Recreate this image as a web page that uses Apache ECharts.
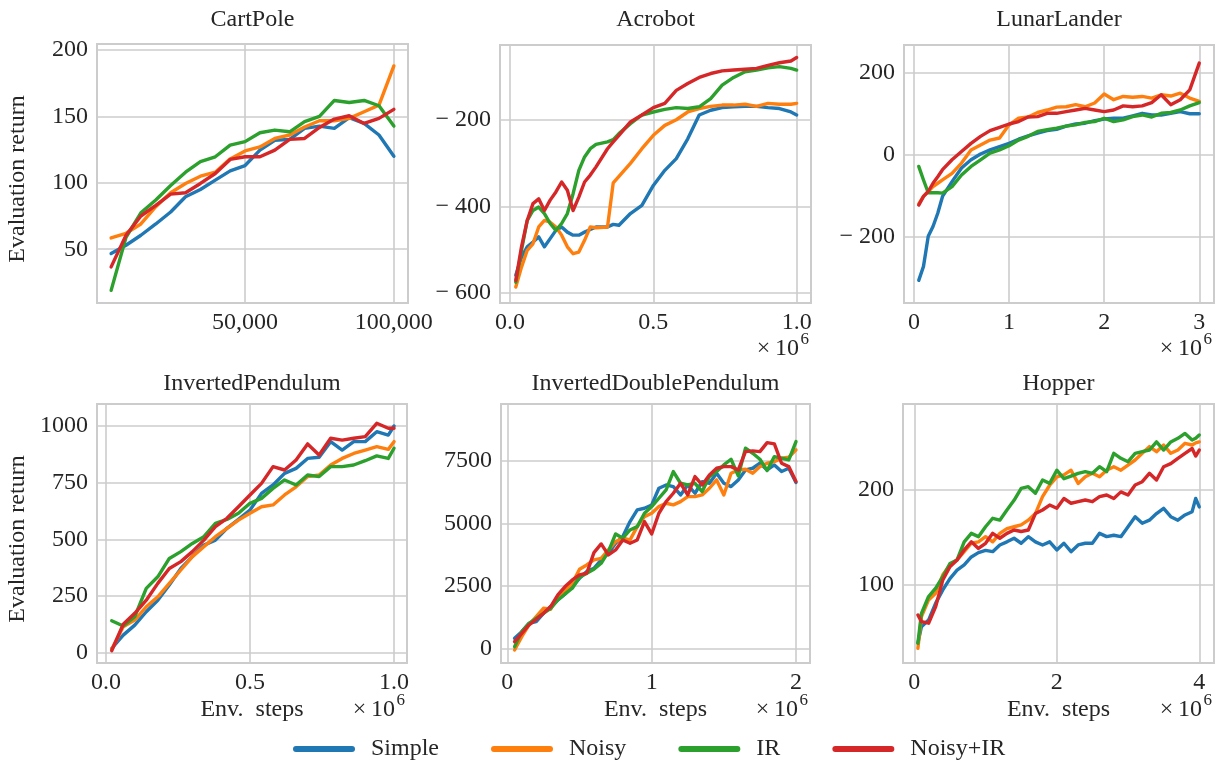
<!DOCTYPE html>
<html>
<head>
<meta charset="utf-8">
<script src="https://cdn.jsdelivr.net/npm/echarts@6/dist/echarts.min.js"></script>
<style>
html, body { margin: 0; padding: 0; background: #fff; }
#main { width: 1227px; height: 760px; }
</style>
</head>
<body>
<div id="main"></div>
<script>
var methods = ['Simple', 'Noisy', 'IR', 'Noisy+IR'];
var colors = ['#1f77b4', '#ff7f0e', '#2ca02c', '#d62728'];

// CartPole
var cartX = [5000, 10000, 15000, 20000, 25000, 30000, 35000, 40000, 45000, 50000,
             55000, 60000, 65000, 70000, 75000, 80000, 85000, 90000, 95000, 100000];
var cartSimple = [46.7, 53, 60.5, 69, 78, 89.5, 95, 102, 109, 113, 124.6, 132, 132.7, 141, 142.7, 141, 149, 144.7, 136, 120];
var cartNoisy = [58.5, 62, 69, 82, 92.5, 99.5, 105, 108, 118, 124, 127, 133.4, 136, 142, 146.7, 146.7, 148.5, 153.5, 158.5, 188];
var cartIR = [19, 59, 77.4, 87, 98, 108, 116, 119.6, 128.4, 131, 137.7, 139.7, 138.4, 146, 150, 162, 160.5, 162, 158, 142.7];
var cartNoisyIR = [36.7, 60.5, 75, 83, 91.5, 92.5, 99.5, 107, 117.6, 119.6, 119.6, 124.6, 132.7, 133.4, 141.7, 148, 150.5, 144.7, 148.5, 155.3];
var cartXTicks = [50000, 100000];
var cartYTicks = [50, 100, 150, 200];

// Acrobot (x in 1e6 steps)
var acroX = [0.02, 0.04, 0.06, 0.08, 0.10, 0.12, 0.14, 0.16, 0.18, 0.20, 0.22, 0.24, 0.26, 0.28, 0.30,
             0.34, 0.36, 0.38, 0.42, 0.46, 0.50, 0.54, 0.58, 0.62, 0.66, 0.70, 0.74, 0.78, 0.82, 0.86, 0.90, 0.94, 0.98, 1.00];
var acroSimple = [-559, -517, -493, -482, -470, -493, -474, -455, -447, -459, -466, -466, -459, -453, -447,
                  -447, -441, -443, -416, -397, -351, -316, -289, -243, -188, -177, -171, -169, -168, -168, -171, -173, -181, -188];
var acroNoisy = [-586, -540, -501, -486, -447, -432, -436, -447, -466, -493, -509, -505, -478, -447, -449,
                 -447, -345, -330, -300, -266, -235, -212, -199, -181, -173, -168, -165, -165, -163, -168, -161, -163, -163, -161];
var acroIR = [-575, -501, -432, -409, -401, -416, -439, -455, -439, -416, -370, -316, -285, -266, -256,
              -250, -245, -231, -208, -188, -181, -175, -171, -173, -169, -150, -119, -101, -88, -84, -79, -76, -80, -84];
var acroNoisyIR = [-571, -493, -432, -393, -382, -409, -385, -366, -343, -362, -409, -378, -343, -327, -308,
                   -266, -250, -235, -204, -188, -171, -161, -131, -115, -101, -92, -86, -84, -82, -80, -73, -67, -63, -55];
var acroXTicks = [0, 0.5, 1.0];
var acroYTicks = [-600, -400, -200];

// LunarLander
var lunarX = [0.05, 0.1, 0.15, 0.2, 0.25, 0.3, 0.4, 0.5, 0.6, 0.7, 0.8, 0.9, 1.0, 1.1, 1.2, 1.3, 1.4, 1.5,
              1.6, 1.7, 1.8, 1.9, 2.0, 2.1, 2.2, 2.3, 2.4, 2.5, 2.6, 2.7, 2.8, 2.9, 3.0];
var lunarSimple = [-305, -271, -198, -174, -142, -101, -65, -32, -12, 2, 12, 20, 28, 38, 46, 53, 59, 62,
                   70, 75, 77, 83, 87, 89, 89, 95, 101, 97, 97, 101, 105, 100, 100];
var lunarNoisy = [-119, -101, -89, -77, -69, -61, -45, -20, 12, 24, 36, 41, 73, 89, 92, 103, 109, 116,
                  117, 122, 117, 126, 148, 134, 142, 140, 142, 138, 146, 143, 150, 138, 130];
var lunarIR = [-28, -61, -92, -92, -92, -93, -77, -49, -28, -12, 4, 12, 22, 36, 45, 57, 61, 65,
               70, 73, 79, 81, 89, 81, 85, 93, 97, 92, 101, 103, 109, 119, 127];
var lunarNoisyIR = [-122, -101, -89, -69, -53, -36, -12, 8, 28, 45, 59, 67, 75, 81, 92, 93, 101, 101,
                    105, 109, 113, 109, 105, 109, 119, 117, 119, 127, 146, 122, 134, 158, 223];
var lunarXTicks = [0, 1, 2, 3];
var lunarYTicks = [-200, 0, 200];

// InvertedPendulum
var ipX = [0.02, 0.06, 0.10, 0.14, 0.18, 0.22, 0.26, 0.30, 0.34, 0.38, 0.42, 0.46, 0.50,
           0.54, 0.58, 0.62, 0.66, 0.70, 0.74, 0.78, 0.82, 0.86, 0.90, 0.94, 0.98, 1.00];
var ipSimple = [19, 78, 122, 181, 232, 299, 372, 424, 475, 497, 549, 588, 629, 703, 740, 791, 813, 857, 862, 931, 894, 931, 931, 975, 960, 1000];
var ipNoisy = [15, 115, 144, 203, 247, 306, 365, 424, 468, 512, 549, 585, 615, 644, 652, 696, 732, 777, 784, 828, 857, 879, 894, 909, 897, 931];
var ipIR = [141, 118, 159, 284, 335, 416, 446, 482, 512, 571, 588, 615, 659, 681, 725, 762, 740, 784, 777, 821, 821, 828, 847, 868, 857, 902];
var ipNoisyIR = [9, 126, 174, 232, 306, 372, 402, 446, 497, 556, 593, 644, 696, 747, 821, 806, 850, 921, 872, 946, 938, 946, 953, 1012, 990, 990];
var ipXTicks = [0, 0.5, 1.0];
var ipYTicks = [0, 250, 500, 750, 1000];

// InvertedDoublePendulum
var idpX = [0.05, 0.1, 0.15, 0.2, 0.25, 0.3, 0.35, 0.4, 0.45, 0.5, 0.55, 0.6, 0.65, 0.7, 0.75, 0.8, 0.85, 0.9, 0.95, 1.0,
            1.05, 1.1, 1.15, 1.2, 1.25, 1.3, 1.35, 1.4, 1.45, 1.5, 1.55, 1.6, 1.65, 1.7, 1.75, 1.8, 1.85, 1.9, 1.95, 2.0];
var idpSimple = [400, 667, 1001, 1068, 1400, 1669, 1936, 2176, 2470, 2804, 3071, 3204, 3538, 3805, 4205, 4473, 5073, 5540, 5607, 5741,
                 6408, 6541, 6475, 6141, 6541, 6208, 6675, 6608, 7009, 6608, 6475, 6742, 7142, 7209, 7409, 7142, 7343, 7076, 7209, 6635];
var idpNoisy = [-67, 467, 934, 1268, 1602, 1562, 2069, 2310, 2603, 3164, 3337, 3538, 3604, 3938, 4272, 4406, 4339, 4873, 5273, 5407,
                5674, 5807, 5741, 5874, 6074, 6074, 6141, 6408, 6742, 6141, 7009, 7142, 7169, 7009, 7276, 7409, 7476, 7610, 7650, 7943];
var idpIR = [67, 667, 1001, 1201, 1400, 1602, 1936, 2176, 2403, 2844, 3004, 3164, 3404, 3872, 4579, 4406, 4739, 4873, 5407, 5674,
             6008, 6341, 7076, 6608, 6541, 6608, 6275, 6875, 7076, 7343, 7570, 6902, 8010, 7810, 7570, 7116, 7676, 7610, 7543, 8277];
var idpNoisyIR = [267, 600, 934, 1161, 1400, 1669, 2136, 2470, 2737, 2937, 3004, 3831, 4179, 3738, 3938, 4339, 4205, 4339, 5073, 4579,
                  5407, 5874, 6208, 6608, 6141, 6875, 6541, 6942, 7209, 7276, 7276, 7142, 7876, 7903, 7876, 8237, 8184, 7409, 7276, 6675];
var idpXTicks = [0, 1, 2];
var idpYTicks = [0, 2500, 5000, 7500];

// Hopper
var hopX = [0.05, 0.1, 0.2, 0.3, 0.4, 0.5, 0.6, 0.7, 0.8, 0.9, 1.0, 1.1, 1.2, 1.3, 1.4, 1.5, 1.6, 1.7, 1.8, 1.9, 2.0,
            2.1, 2.2, 2.3, 2.4, 2.5, 2.6, 2.7, 2.8, 2.9, 3.0, 3.1, 3.2, 3.3, 3.4, 3.5, 3.6, 3.7, 3.8, 3.9, 3.95, 4.0];
var hopSimple = [37.5, 55, 62, 80, 94, 106, 115, 120.5, 129, 133.6, 136, 134.6, 141.7, 145, 148.8, 143.5, 150.5, 145, 141.7, 145, 136.4,
                 143.5, 134.6, 141.7, 143.5, 143.5, 154, 150.5, 152, 150.5, 161, 171.7, 164.7, 168, 175, 180.6, 171.7, 168, 173.5, 177, 191, 182];
var hopNoisy = [32, 65.7, 83.4, 90.5, 110, 120.5, 125.8, 134.6, 143.5, 145, 150.5, 145, 154, 159, 161, 163, 168, 175, 193, 205, 214,
                216, 221, 207, 214, 217.7, 214, 221, 224.7, 221, 226.5, 231.8, 238.9, 246, 240.6, 247.7, 238.9, 242.4, 249.5, 247.7, 250, 251];
var hopIR = [37.5, 69, 87, 95.8, 108, 122, 125.8, 145, 154, 150.5, 161, 170, 168, 178.8, 189, 201.8, 203.5, 196.5, 210.6, 207, 221,
             212, 214.8, 217.7, 219.4, 217.7, 224.7, 219.4, 238.9, 233.6, 230, 238.9, 240.6, 242.4, 251, 242.4, 251, 254.8, 260, 253, 254.8, 258.3];
var hopNoisyIR = [67.5, 60.4, 58.7, 76.3, 104.6, 118.7, 125.8, 136.4, 145, 138, 143.5, 154, 148.8, 154, 157.6, 156, 157.6, 175, 178.8, 184, 180.6,
                  191, 185.9, 187.6, 189.4, 187.6, 193, 194.7, 191, 198, 194.7, 205.3, 208.8, 217.7, 210.6, 224.7, 228, 233.6, 238.9, 244, 236, 242.4];
var hopXTicks = [0, 2, 4];
var hopYTicks = [100, 200];

var FONT = '"Liberation Serif", "Times New Roman", serif';
var TXT = '#262626';
var FS = 24;

function commas(v) { return String(v).replace(/\B(?=(\d{3})+(?!\d))/g, ','); }
function oneDec(v) { return v.toFixed(1); }
function plain(v) { return v < 0 ? '\u2212 ' + (-v) : String(v); }

var panels = [
    {title: 'CartPole', x: cartX, ys: [cartSimple, cartNoisy, cartIR, cartNoisyIR], xt: cartXTicks, yt: cartYTicks,
     rect: [97, 44, 311, 259], xr: [250, 104750], yr: [9.5, 204.5], xf: commas, yf: plain},
    {title: 'Acrobot', x: acroX, ys: [acroSimple, acroNoisy, acroIR, acroNoisyIR], xt: acroXTicks, yt: acroYTicks,
     rect: [500, 45, 311, 258], xr: [-0.035, 1.05], yr: [-623, -26], xf: oneDec, yf: plain},
    {title: 'LunarLander', x: lunarX, ys: [lunarSimple, lunarNoisy, lunarIR, lunarNoisyIR], xt: lunarXTicks, yt: lunarYTicks,
     rect: [904, 45, 310, 258], xr: [-0.105, 3.155], yr: [-360, 267], xf: plain, yf: plain},
    {title: 'InvertedPendulum', x: ipX, ys: [ipSimple, ipNoisy, ipIR, ipNoisyIR], xt: ipXTicks, yt: ipYTicks,
     rect: [97, 404, 310, 259], xr: [-0.031, 1.045], yr: [-45, 1097], xf: oneDec, yf: plain},
    {title: 'InvertedDoublePendulum', x: idpX, ys: [idpSimple, idpNoisy, idpIR, idpNoisyIR], xt: idpXTicks, yt: idpYTicks,
     rect: [501, 404, 309, 259], xr: [-0.044, 2.097], yr: [-589, 9782], xf: plain, yf: plain},
    {title: 'Hopper', x: hopX, ys: [hopSimple, hopNoisy, hopIR, hopNoisyIR], xt: hopXTicks, yt: hopYTicks,
     rect: [903, 404, 311, 259], xr: [-0.159, 4.207], yr: [16.5, 291.2], xf: plain, yf: plain}
];

var grids = [], xAxes = [], yAxes = [], series = [], graphics = [];

panels.forEach(function (p, k) {
    grids.push({
        left: p.rect[0], top: p.rect[1], width: p.rect[2], height: p.rect[3],
        show: true, borderColor: '#cccccc', borderWidth: 2, backgroundColor: '#fff'
    });
    xAxes.push({
        type: 'value', gridIndex: k, min: p.xr[0], max: p.xr[1],
        axisLine: {show: false},
        axisTick: {show: false, customValues: p.xt},
        axisLabel: {customValues: p.xt, formatter: p.xf, margin: 8, fontFamily: FONT, fontSize: FS, color: TXT},
        splitLine: {show: true, lineStyle: {color: '#cccccc', width: 1.6}}
    });
    yAxes.push({
        type: 'value', gridIndex: k, min: p.yr[0], max: p.yr[1],
        axisLine: {show: false},
        axisTick: {show: false, customValues: p.yt},
        axisLabel: {customValues: p.yt, formatter: p.yf, margin: 9, fontFamily: FONT, fontSize: FS, color: TXT},
        splitLine: {show: true, lineStyle: {color: '#cccccc', width: 1.6}}
    });
    p.ys.forEach(function (vals, i) {
        series.push({
            type: 'line', name: methods[i], xAxisIndex: k, yAxisIndex: k,
            data: p.x.map(function (xv, j) { return [xv, vals[j]]; }),
            showSymbol: false, symbol: 'none', silent: true, z: 2 + i,
            lineStyle: {width: 3.4, color: colors[i], join: 'round', cap: 'round'},
            itemStyle: {color: colors[i]}
        });
    });
    var cx = p.rect[0] + p.rect[2] / 2;
    var row2 = k >= 3;
    graphics.push({
        type: 'text', x: cx, y: row2 ? 384 : 20,
        style: {text: p.title, font: FS + 'px ' + FONT, fill: TXT, textAlign: 'center', textVerticalAlign: 'middle'}
    });
    var right = p.rect[0] + p.rect[2] - 2;
    if (k !== 0) {
        var by = row2 ? 710 : 349;
        graphics.push({
            type: 'text', x: right - 10, y: by,
            style: {text: '\u00d7\u200910', font: FS + 'px ' + FONT, fill: TXT, textAlign: 'right', textVerticalAlign: 'middle'}
        });
        graphics.push({
            type: 'text', x: right, y: by - 9,
            style: {text: '6', font: '17px ' + FONT, fill: TXT, textAlign: 'right', textVerticalAlign: 'middle'}
        });
    }
    if (row2) {
        graphics.push({
            type: 'text', x: cx, y: 710,
            style: {text: 'Env.  steps', font: FS + 'px ' + FONT, fill: TXT, textAlign: 'center', textVerticalAlign: 'middle'}
        });
    }
});

[179, 539].forEach(function (yc) {
    graphics.push({
        type: 'text', x: 18, y: yc, rotation: Math.PI / 2,
        style: {text: 'Evaluation return', font: FS + 'px ' + FONT, fill: TXT, textAlign: 'center', textVerticalAlign: 'middle'}
    });
});

var chart = echarts.init(document.getElementById('main'));
chart.setOption({
    backgroundColor: '#fff',
    animation: false,
    grid: grids,
    xAxis: xAxes,
    yAxis: yAxes,
    legend: {
        data: methods,
        left: 288, top: 732,
        icon: 'path://M3,0 L59,0 A3,3 0 0 1 59,6 L3,6 A3,3 0 0 1 3,0 Z',
        itemWidth: 62, itemHeight: 6, itemGap: 52,
        textStyle: {fontFamily: FONT, fontSize: FS, color: TXT, padding: [0, 0, 0, 11]}
    },
    graphic: graphics,
    series: series
});
</script>
</body>
</html>
